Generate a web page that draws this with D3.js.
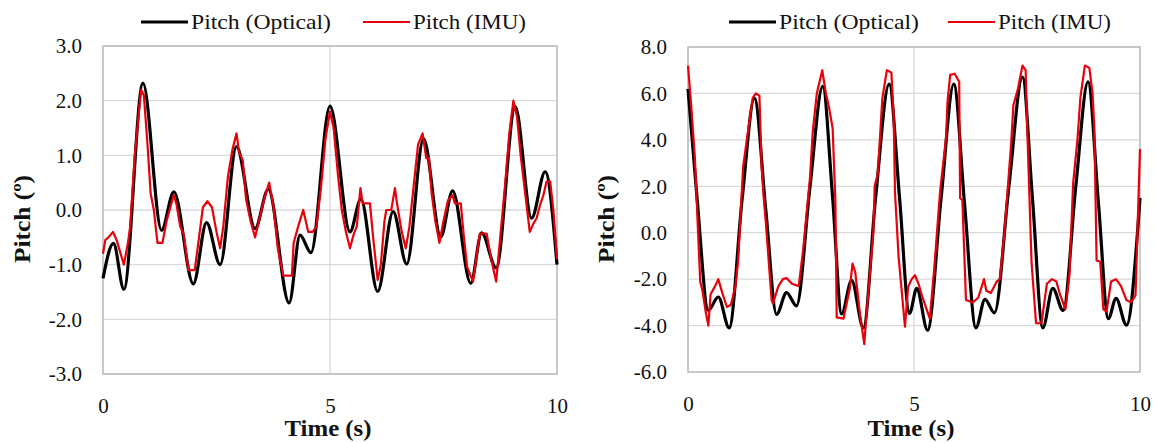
<!DOCTYPE html>
<html lang="en">
<head>
<meta charset="UTF-8" />
<title>Pitch optical vs IMU</title>
<style>
  body { margin: 0; background: #fff; }
  text { font-family: "Liberation Serif", "DejaVu Serif", serif; fill: #111; }
  .title { font-weight: bold; }
</style>
</head>
<body>
<div id="wrapper"></div>
<script src="https://d3js.org/d3.v7.min.js"></script>
<script>
// ---- data (time in s, pitch in degrees) ----
const xTicks = [0, 5, 10];
const leftYTicks = [-3, -2, -1, 0, 1, 2, 3];
const rightYTicks = [-6, -4, -2, 0, 2, 4, 6, 8];
const seriesNames = ["Pitch (Optical)", "Pitch (IMU)"];

const leftOptical = [[0,-1.25],[0.23,-0.61],[0.46,-1.45],[0.88,2.32],[1.29,-0.37],[1.56,0.33],[1.99,-1.35],[2.28,-0.23],[2.58,-1.0],[2.94,1.16],[3.35,-0.34],[3.64,0.38],[4.1,-1.7],[4.34,-0.46],[4.58,-0.78],[5.0,1.9],[5.44,-0.4],[5.68,0.2],[6.05,-1.49],[6.39,-0.03],[6.69,-0.99],[7.06,1.3],[7.44,-0.49],[7.7,0.35],[8.1,-1.34],[8.34,-0.42],[8.66,-1.06],[9.08,1.89],[9.44,-0.15],[9.74,0.7],[10,-1.0]];

const leftIMU = [[0,-0.8],[0.05,-0.55],[0.12,-0.5],[0.22,-0.4],[0.3,-0.55],[0.46,-1.0],[0.55,-0.6],[0.6,-0.3],[0.7,1.0],[0.78,1.7],[0.84,2.2],[0.9,2.1],[0.98,1.2],[1.05,0.3],[1.12,0.0],[1.2,-0.6],[1.31,-0.6],[1.4,-0.2],[1.5,0.1],[1.56,0.27],[1.62,0.1],[1.7,-0.3],[1.78,-0.45],[1.88,-1.1],[2.02,-1.1],[2.1,-0.6],[2.2,0.05],[2.3,0.16],[2.4,0.05],[2.5,-0.4],[2.58,-0.7],[2.65,-0.3],[2.75,0.6],[2.85,1.1],[2.94,1.4],[3.0,1.05],[3.08,0.9],[3.15,0.2],[3.25,-0.2],[3.35,-0.5],[3.45,-0.15],[3.55,0.2],[3.66,0.5],[3.75,0.1],[3.85,-0.7],[3.97,-1.2],[4.16,-1.2],[4.2,-0.6],[4.3,-0.3],[4.41,0.0],[4.52,-0.4],[4.62,-0.4],[4.7,-0.3],[4.8,0.4],[4.9,1.3],[5.0,1.8],[5.08,1.5],[5.18,0.6],[5.26,0.0],[5.35,-0.4],[5.44,-0.7],[5.52,-0.45],[5.59,-0.3],[5.67,0.4],[5.72,0.12],[5.88,0.12],[5.95,-0.5],[6.05,-1.28],[6.12,-1.0],[6.2,-0.2],[6.24,0.0],[6.35,0.0],[6.43,0.4],[6.48,0.1],[6.58,-0.4],[6.67,-0.7],[6.75,-0.3],[6.85,0.5],[6.94,1.2],[7.04,1.4],[7.12,0.95],[7.18,0.95],[7.24,0.3],[7.32,-0.2],[7.41,-0.6],[7.5,-0.2],[7.6,0.18],[7.7,0.27],[7.75,0.12],[7.88,0.12],[7.95,-0.5],[8.02,-1.04],[8.15,-1.31],[8.22,-0.9],[8.3,-0.43],[8.45,-0.43],[8.55,-0.9],[8.66,-1.31],[8.75,-0.5],[8.85,0.4],[8.95,1.4],[9.04,2.0],[9.12,1.7],[9.2,1.0],[9.3,0.3],[9.4,-0.4],[9.48,-0.25],[9.55,-0.15],[9.63,0.1],[9.7,0.27],[9.77,0.52],[9.85,0.52],[9.92,0.0],[10,-0.9]];

const rightOptical = [[0,6.2],[0.2,1.5],[0.45,-3.34],[0.67,-2.77],[0.91,-4.1],[1.2,1.5],[1.47,5.8],[1.72,1.0],[1.96,-3.52],[2.18,-2.58],[2.4,-3.15],[2.7,2.0],[2.98,6.3],[3.2,1.5],[3.4,-3.5],[3.62,-2.05],[3.88,-4.1],[4.15,1.5],[4.45,6.4],[4.68,1.5],[4.9,-3.48],[5.06,-2.4],[5.3,-4.2],[5.6,1.5],[5.88,6.4],[6.12,1.2],[6.37,-4.1],[6.57,-2.87],[6.78,-3.45],[7.1,2.0],[7.4,6.7],[7.62,1.5],[7.85,-4.1],[8.07,-2.4],[8.3,-3.35],[8.58,2.0],[8.85,6.5],[9.08,1.3],[9.3,-3.7],[9.47,-2.83],[9.7,-3.98],[10,1.5]];

const rightIMU = [[0,7.2],[0.07,5.5],[0.15,3.3],[0.27,-2.1],[0.32,-2.5],[0.4,-3.5],[0.45,-4.0],[0.5,-2.65],[0.6,-2.3],[0.67,-2.0],[0.76,-2.6],[0.86,-3.2],[0.95,-3.1],[1.05,-2.3],[1.11,-1.2],[1.22,2.85],[1.33,4.4],[1.43,5.8],[1.5,6.0],[1.58,5.9],[1.63,2.8],[1.68,1.4],[1.72,0.5],[1.85,-2.9],[1.88,-3.05],[2.0,-2.3],[2.1,-2.0],[2.18,-1.95],[2.3,-2.2],[2.45,-2.3],[2.55,-0.7],[2.7,2.4],[2.76,4.35],[2.85,6.0],[2.97,7.0],[3.05,6.0],[3.12,5.4],[3.2,4.5],[3.26,1.4],[3.29,-3.65],[3.44,-3.7],[3.58,-2.4],[3.64,-1.33],[3.7,-1.7],[3.81,-3.6],[3.9,-4.8],[3.95,-3.5],[4.1,0.0],[4.13,2.0],[4.2,2.55],[4.3,5.8],[4.4,7.0],[4.5,6.9],[4.55,5.0],[4.58,1.7],[4.66,-1.05],[4.8,-4.05],[4.87,-2.33],[4.95,-2.0],[5.02,-1.83],[5.1,-2.2],[5.19,-2.8],[5.35,-3.7],[5.45,-1.5],[5.58,1.84],[5.71,4.1],[5.74,5.6],[5.8,6.8],[5.9,6.85],[6.0,6.5],[6.02,1.5],[6.07,1.4],[6.15,-2.9],[6.3,-3.0],[6.42,-2.8],[6.55,-2.0],[6.6,-2.5],[6.7,-2.6],[6.83,-2.1],[6.9,-2.0],[7.0,0.0],[7.15,3.85],[7.2,5.5],[7.3,6.2],[7.4,7.2],[7.47,7.0],[7.5,4.85],[7.55,1.8],[7.6,-1.25],[7.7,-3.9],[7.82,-3.9],[7.94,-2.2],[8.05,-2.0],[8.15,-2.1],[8.22,-2.6],[8.35,-3.3],[8.44,-1.8],[8.52,2.1],[8.62,4.1],[8.68,5.8],[8.78,7.2],[8.88,7.1],[8.95,6.0],[8.99,4.5],[9.04,-1.2],[9.12,-1.25],[9.19,-3.3],[9.26,-3.4],[9.36,-2.1],[9.47,-2.0],[9.58,-2.3],[9.7,-2.9],[9.8,-3.0],[9.9,-2.7],[10,3.6]];

const W = 1157, H = 443;
const svg = d3.select("#wrapper").append("svg")
  .attr("width", W).attr("height", H)
  .style("background", "#fff");

// the original font is a wide Palatino-like face; stretch the serif to its widths
function fitText(sel, len) {
  sel.attr("textLength", len).attr("lengthAdjust", "spacingAndGlyphs");
}

function drawPanel(opt) {
  const x = d3.scaleLinear().domain([0, 10]).range([opt.left, opt.right]);
  const y = d3.scaleLinear().domain(opt.yDomain).range([opt.bottom, opt.top]);
  const g = svg.append("g");

  // gridlines
  g.append("g").selectAll("line").data(opt.yTicks).join("line")
    .attr("x1", opt.left).attr("x2", opt.right)
    .attr("y1", d => y(d)).attr("y2", d => y(d))
    .attr("stroke", "#d9d9d9").attr("stroke-width", 1.3);
  g.append("g").selectAll("line").data(xTicks).join("line")
    .attr("y1", opt.top).attr("y2", opt.bottom)
    .attr("x1", d => x(d)).attr("x2", d => x(d))
    .attr("stroke", "#d9d9d9").attr("stroke-width", 1.3);
  g.append("rect")
    .attr("x", opt.left).attr("y", opt.top)
    .attr("width", opt.right - opt.left).attr("height", opt.bottom - opt.top)
    .attr("fill", "none").attr("stroke", "#bfbfbf").attr("stroke-width", 1.5);

  // axes (labels only)
  const yAxis = g.append("g")
    .attr("transform", `translate(${opt.left - 9},0)`)
    .call(d3.axisLeft(y).tickValues(opt.yTicks).tickSize(0).tickPadding(12)
      .tickFormat(d => d.toFixed(1)));
  const xAxis = g.append("g")
    .attr("transform", `translate(0,${opt.bottom + 8})`)
    .call(d3.axisBottom(x).tickValues(xTicks).tickSize(0).tickPadding(16)
      .tickFormat(d => d));
  [yAxis, xAxis].forEach(a => {
    a.select(".domain").remove();
    a.selectAll("text").attr("font-size", 21)
      .attr("font-family", "Liberation Serif").attr("fill", "#111");
  });

  // lines
  const lineOpt = d3.line().x(d => x(d[0])).y(d => y(d[1])).curve(d3.curveMonotoneX);
  const lineIMU = d3.line().x(d => x(d[0])).y(d => y(d[1]));
  g.append("path").datum(opt.optical)
    .attr("fill", "none").attr("stroke", "#000").attr("stroke-width", 3.2)
    .attr("stroke-linejoin", "round").attr("d", lineOpt);
  g.append("path").datum(opt.imu)
    .attr("fill", "none").attr("stroke", "#e8000b").attr("stroke-width", 2.2)
    .attr("stroke-linejoin", "round").attr("d", lineIMU);

  // titles
  g.append("text").attr("class", "title")
    .attr("x", opt.xTitleX).attr("y", 436)
    .attr("text-anchor", "middle").attr("font-size", 23)
    .text("Time (s)").call(fitText, 87);
  g.append("text").attr("class", "title")
    .attr("transform", `translate(${opt.yTitleX},219) rotate(-90)`)
    .attr("text-anchor", "middle").attr("font-size", 23)
    .text("Pitch (º)").call(fitText, 88);

  // legend
  const colors = ["#000", "#e8000b"];
  const widths = [3.2, 2.2];
  const textLens = [140, 113];
  opt.legendX.forEach((lx, i) => {
    g.append("line").attr("x1", lx).attr("x2", lx + 47)
      .attr("y1", 22).attr("y2", 22)
      .attr("stroke", colors[i]).attr("stroke-width", widths[i]);
    g.append("text").attr("x", lx + 50).attr("y", 29)
      .attr("font-size", 21).text(seriesNames[i]).call(fitText, textLens[i]);
  });
}

drawPanel({
  left: 103, right: 557, top: 46, bottom: 374,
  yDomain: [-3, 3], yTicks: leftYTicks,
  optical: leftOptical, imu: leftIMU,
  xTitleX: 328, yTitleX: 30, legendX: [141, 363]
});
drawPanel({
  left: 688, right: 1140, top: 47, bottom: 372,
  yDomain: [-6, 8], yTicks: rightYTicks,
  optical: rightOptical, imu: rightIMU,
  xTitleX: 911, yTitleX: 614, legendX: [729, 948]
});
</script>
</body>
</html>
